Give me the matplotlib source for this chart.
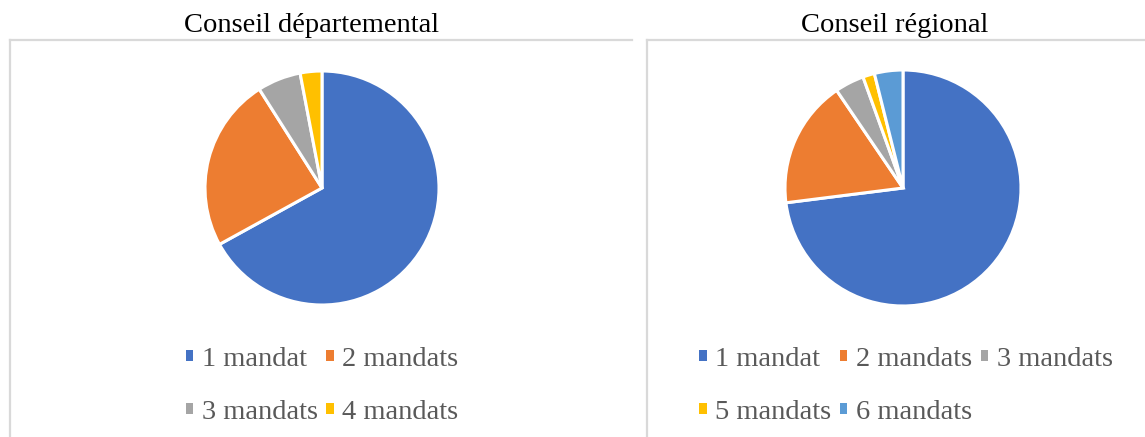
import matplotlib.pyplot as plt
from matplotlib.lines import Line2D
from matplotlib.patches import Patch

plt.rcParams['font.family'] = ['Liberation Serif', 'DejaVu Serif']

# data (shares in %)
dept_labels = ['1 mandat', '2 mandats', '3 mandats', '4 mandats']
dept_values = [67, 24, 6, 3]
dept_colors = ['#4472C4', '#ED7D31', '#A5A5A5', '#FFC000']

reg_labels = ['1 mandat', '2 mandats', '3 mandats', '5 mandats', '6 mandats']
reg_values = [73, 17.5, 4, 1.6, 3.9]
reg_colors = ['#4472C4', '#ED7D31', '#A5A5A5', '#FFC000', '#5B9BD5']

W, H = 1145, 437
fig = plt.figure(figsize=(W / 100, H / 100), dpi=100)


def fx(px):
    return px / W


def fy(py):
    return 1 - py / H


def pie_panel(cx, cy, r, values, colors, labels, order, ncol, title, title_x, legend_x):
    half = r * 1.15
    ax = fig.add_axes([fx(cx - half), fy(cy + half), 2 * half / W, 2 * half / H])
    ax.pie(values, colors=colors, startangle=90, counterclock=False, radius=1,
           wedgeprops=dict(edgecolor='white', linewidth=2.2))
    lim = half / r
    ax.set_xlim(-lim, lim)
    ax.set_ylim(-lim, lim)
    ax.set_aspect('equal')
    ax.axis('off')
    fig.text(fx(title_x), fy(26), title, ha='center', va='center', fontsize=20.5, color='black')
    # legend in row order (matplotlib fills columns first)
    handles = [Patch(facecolor=colors[i], edgecolor='none') for i in order]
    labs = [labels[i] for i in order]
    fig.legend(handles, labs, loc='center', bbox_to_anchor=(fx(legend_x), fy(386)),
               ncol=ncol, frameon=False, fontsize=20.5, labelcolor='#595959',
               handlelength=0.26, handleheight=0.22, handletextpad=0.3,
               columnspacing=0.3, labelspacing=0.98, borderpad=0)


pie_panel(322, 188, 117, dept_values, dept_colors, dept_labels, [0, 2, 1, 3], 2,
          'Conseil départemental', 312, 322)
pie_panel(903, 188, 118, reg_values, reg_colors, reg_labels, [0, 3, 1, 4, 2], 3,
          'Conseil régional', 895, 906)

# panel frames (only left and top edges visible)
frame = dict(color='#D9D9D9', linewidth=1.6)
fig.add_artist(Line2D([fx(10), fx(10)], [fy(40), fy(437)], **frame))
fig.add_artist(Line2D([fx(10), fx(632)], [fy(40), fy(40)], **frame))
fig.add_artist(Line2D([fx(647), fx(647)], [fy(40), fy(437)], **frame))
fig.add_artist(Line2D([fx(647), fx(1145)], [fy(40), fy(40)], **frame))

fig.savefig('out.png', dpi=100, facecolor='white')
